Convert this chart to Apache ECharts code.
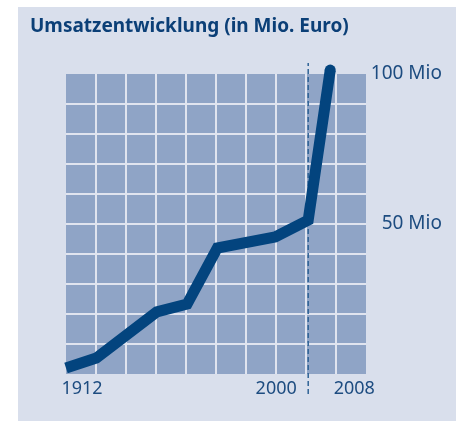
<!DOCTYPE html>
<html lang="de">
<head>
    <meta charset="UTF-8">
    <title>Umsatzentwicklung</title>
    <script src="https://cdn.jsdelivr.net/npm/echarts@6/dist/echarts.min.js"></script>
    <style>
        body { margin: 0; background: #fff; }
        /* hellblaue Fläche hinter dem Diagramm */
        #panel { position: absolute; left: 18px; top: 7px; width: 438px; height: 414px; background: #d9dfec; }
        #chart { position: absolute; left: 0; top: 0; width: 456px; height: 422px; }
    </style>
</head>
<body>
    <div id="panel"></div>
    <div id="chart"></div>
    <script>
        // Daten
        var years = [1912, 1923, 1945, 1956, 1967, 1988, 2000, 2008];
        var revenue = [2, 5.3, 20.7, 23.3, 42, 45.7, 51.3, 101.3];
        var yearTicks = [1912, 2000, 2008];
        var valueTicks = [50, 100];
        var markYear = 2000;
        var markRange = [-6.7, 103.7];

        var lineData = years.map(function (y, i) {
            var item = { value: [y, revenue[i]] };
            if (i === years.length - 1) {
                item.symbol = 'circle';
                item.symbolSize = 11;
            }
            return item;
        });

        var chart = echarts.init(document.getElementById('chart'));
        var labelColor = '#1d4c80';

        chart.setOption({
            backgroundColor: 'transparent',
            animation: false,
            title: {
                text: 'Umsatzentwicklung (in Mio. Euro)',
                left: 25,
                top: 12,
                textStyle: { fontFamily: 'Noto Sans', fontSize: 19, fontWeight: 'bold', color: '#0b3f77' }
            },
            grid: {
                left: 66, top: 74, width: 300, height: 300,
                show: true, backgroundColor: '#8fa4c6', borderWidth: 0
            },
            xAxis: [{
                type: 'value', min: 1912, max: 2021,
                axisLine: { show: false }, axisTick: { show: false }, splitLine: { show: false },
                axisLabel: {
                    customValues: yearTicks,
                    margin: 6,
                    fontFamily: 'Noto Sans', fontSize: 17, color: labelColor,
                    formatter: function (v) { return '{t' + v + '|' + v + '}'; },
                    rich: {
                        t1912: { fontFamily: 'Noto Sans', fontSize: 18, color: labelColor, padding: [0, 0, 0, 32] },
                        t2000: { fontFamily: 'Noto Sans', fontSize: 18, color: labelColor, padding: [0, 64, 0, 0] },
                        t2008: { fontFamily: 'Noto Sans', fontSize: 18, color: labelColor, padding: [0, 0, 0, 48] }
                    }
                }
            }, {
                // nur für das Raster
                type: 'value', min: 0, max: 10, interval: 1, show: true,
                axisLine: { show: false }, axisTick: { show: false }, axisLabel: { show: false },
                splitLine: { show: true, showMinLine: false, showMaxLine: false, lineStyle: { color: '#e0e4ef', width: 2 } }
            }],
            yAxis: {
                type: 'value', min: 0, max: 100, interval: 10, position: 'right',
                axisLine: { show: false }, axisTick: { show: false },
                splitLine: { show: true, showMinLine: false, showMaxLine: false, lineStyle: { color: '#e0e4ef', width: 2 } },
                axisLabel: {
                    customValues: valueTicks,
                    align: 'right', margin: 76,
                    fontFamily: 'Noto Sans', fontSize: 19, color: labelColor,
                    formatter: '{value} Mio'
                }
            },
            series: [{
                type: 'line',
                data: [[markYear, markRange[0]], [markYear, markRange[1]]],
                symbol: 'none', clip: false, silent: true, z: 3,
                lineStyle: { color: '#2f6295', width: 1.5, type: [5, 3] }
            }, {
                type: 'line',
                data: lineData,
                symbol: 'none', showSymbol: true, clip: false, z: 4,
                itemStyle: { color: '#03447e' },
                lineStyle: { color: '#03447e', width: 11, cap: 'butt', join: 'miter' }
            }]
        });

        window.addEventListener('resize', function () { chart.resize(); });
    </script>
</body>
</html>
